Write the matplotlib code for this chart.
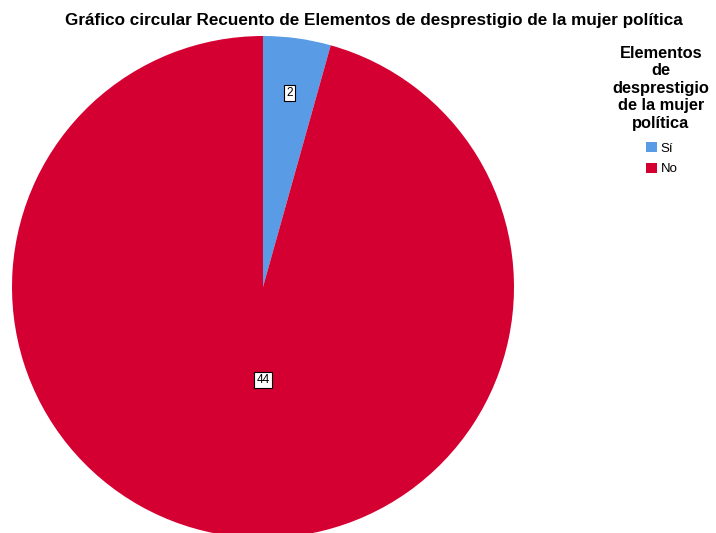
import matplotlib.pyplot as plt
import numpy as np

plt.rcParams['font.family'] = ['Liberation Sans', 'DejaVu Sans']

categorias = ['Sí', 'No']
recuento = [2, 44]
colores = ['#5A9BE6', '#D50032']
# radio relativo de cada etiqueta
dist_etiqueta = [0.78, 0.37]

fig = plt.figure(figsize=(7.16, 5.33), dpi=100)
W, H = 716, 533
cx, cy, r = 263, 287, 251
ax = fig.add_axes([(cx - r) / W, (H - cy - r) / H, 2 * r / W, 2 * r / H])

cuñas, _ = ax.pie(recuento, colors=colores, startangle=90, counterclock=False,
                  radius=1, wedgeprops=dict(linewidth=0))
ax.set_xlim(-1, 1)
ax.set_ylim(-1, 1)
ax.set_aspect('auto')
ax.axis('off')

for i, w in enumerate(cuñas):
    if i == 0:
        ang = np.deg2rad((w.theta1 + w.theta2) / 2)
        x, y = dist_etiqueta[i] * np.cos(ang), dist_etiqueta[i] * np.sin(ang)
    else:
        x, y = 0, -dist_etiqueta[i]
    ax.text(x, y, str(recuento[i]), ha='center', va='center', fontsize=8.5,
            bbox=dict(boxstyle='square,pad=0.2', facecolor='white', edgecolor='black', linewidth=0.8))

fig.text(374 / W, 1 - 20 / H,
         'Gráfico circular Recuento de Elementos de desprestigio de la mujer política',
         ha='center', va='center', fontsize=12.3, fontweight='bold')

# título de la leyenda aparte para controlar el espaciado
fig.text(661 / W, 1 - 46 / H, 'Elementos\nde\ndesprestigio\nde la mujer\npolítica',
         ha='center', va='top', multialignment='center', fontsize=11.8,
         fontweight='bold', linespacing=1.2)

leg = fig.legend(cuñas, categorias, loc='upper center',
                 bbox_to_anchor=(662 / W, 1 - 142 / H), frameon=False,
                 borderpad=0, borderaxespad=0,
                 handlelength=0.8, handleheight=0.8, handletextpad=0.3, labelspacing=0.6,
                 fontsize=9.5)

fig.savefig('out.png', dpi=100)
